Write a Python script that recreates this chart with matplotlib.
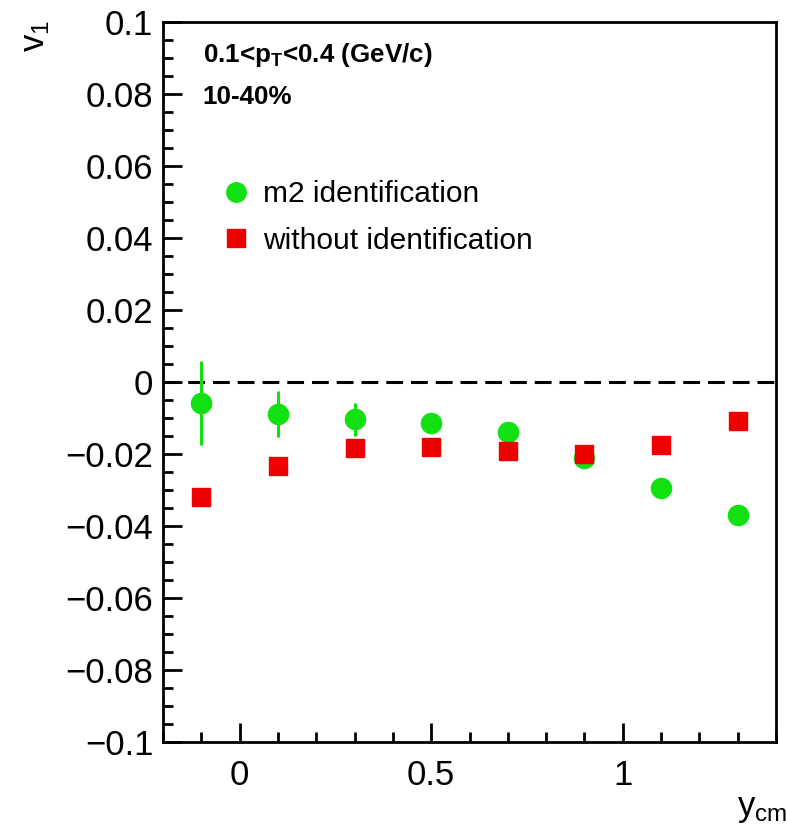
import matplotlib
matplotlib.use("Agg")
import matplotlib.pyplot as plt
from matplotlib.ticker import MultipleLocator, FixedLocator, FixedFormatter
from matplotlib.lines import Line2D

plt.rcParams['font.family'] = ['Liberation Sans', 'DejaVu Sans']
plt.rcParams['mathtext.fontset'] = 'custom'
plt.rcParams['mathtext.rm'] = 'Liberation Sans'
plt.rcParams['mathtext.it'] = 'Liberation Sans'
plt.rcParams['mathtext.bf'] = 'Liberation Sans:bold'
plt.rcParams['mathtext.default'] = 'regular'

# data
y_cm = [-0.1, 0.1, 0.3, 0.5, 0.7, 0.9, 1.1, 1.3]
v1_m2 = [-0.0058, -0.0089, -0.0103, -0.0114, -0.0138, -0.0210, -0.0294, -0.0370]
v1_m2_err = [0.0117, 0.0064, 0.0046, 0.0020, 0.0015, 0.0015, 0.0015, 0.0015]
v1_noid = [-0.0320, -0.0233, -0.0184, -0.0180, -0.0192, -0.0200, -0.0175, -0.0108]
v1_noid_err = [0.0010, 0.0010, 0.0010, 0.0010, 0.0010, 0.0010, 0.0010, 0.0010]

ytick_vals = [-0.1, -0.08, -0.06, -0.04, -0.02, 0, 0.02, 0.04, 0.06, 0.08, 0.1]
ytick_labels = ['\u22120.1', '\u22120.08', '\u22120.06', '\u22120.04', '\u22120.02', '0',
                '0.02', '0.04', '0.06', '0.08', '0.1']
xtick_vals = [0, 0.5, 1]
xtick_labels = ['0', '0.5', '1']

green = '#11e011'
red = '#ee0000'

fig = plt.figure(figsize=(7.86, 8.30), dpi=100)
ax = fig.add_axes([163/786, 1-742/830, (776-163)/786, (742-22)/830])

ax.axhline(0, color='black', lw=2.2, ls=(0, (5.5, 2.6)), zorder=1)

ax.errorbar(y_cm, v1_m2, yerr=v1_m2_err, fmt='o', color=green, ms=14.5,
            elinewidth=2.2, capsize=0, zorder=3)
ax.errorbar(y_cm, v1_noid, yerr=v1_noid_err, fmt='s', color=red, ms=13.5,
            elinewidth=2.2, capsize=0, zorder=4)

ax.set_xlim(-0.2, 1.4)
ax.set_ylim(-0.1, 0.1)

ax.yaxis.set_major_locator(FixedLocator(ytick_vals))
ax.yaxis.set_major_formatter(FixedFormatter(ytick_labels))
ax.yaxis.set_minor_locator(MultipleLocator(0.005))
ax.xaxis.set_major_locator(FixedLocator(xtick_vals))
ax.xaxis.set_major_formatter(FixedFormatter(xtick_labels))
ax.xaxis.set_minor_locator(MultipleLocator(0.1))

ax.tick_params(axis='both', which='both', direction='in', top=False, right=False,
               labelsize=25, width=2, colors='black')
ax.tick_params(axis='both', which='major', length=14)
ax.tick_params(axis='both', which='minor', length=7)
ax.tick_params(axis='x', which='major', pad=12)
ax.tick_params(axis='y', which='major', pad=7)
for s in ax.spines.values():
    s.set_linewidth(2)

handles = [Line2D([], [], marker='o', ls='none', color=green, ms=14),
           Line2D([], [], marker='s', ls='none', color=red, ms=12.5)]
leg = ax.legend(handles, ['m2 identification', 'without identification'],
                loc='upper left', bbox_to_anchor=(0.075, 0.797), frameon=False,
                fontsize=21.5, handletextpad=0.4, labelspacing=0.62, borderaxespad=0,
                handlelength=1.0)

ax.text(0.065, 0.954, '0.1<p$_T$<0.4 (GeV/c)', transform=ax.transAxes,
        fontsize=18.7, fontweight='bold', va='center', ha='left')
ax.text(0.065, 0.896, '10-40%', transform=ax.transAxes,
        fontsize=18.7, fontweight='bold', va='center', ha='left')

fig.text(36/786, 1-36/830, r'v$_1$', rotation=90, fontsize=25, ha='center', va='center')
fig.text(762/786, 1-808/830, r'y$_{cm}$', fontsize=25, ha='center', va='center')

fig.savefig('out.png', dpi=100)
